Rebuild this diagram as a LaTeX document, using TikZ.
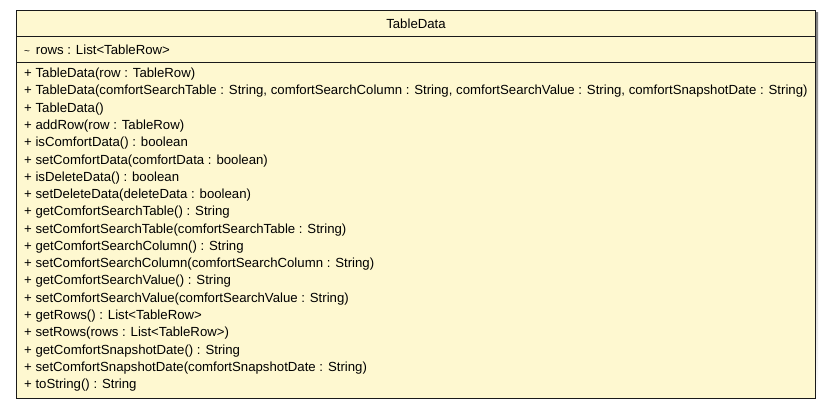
\documentclass[tikz,border=0pt]{standalone}
\usepackage{fontspec}
\setmainfont{Liberation Sans}
\usetikzlibrary{positioning}
\definecolor{classfill}{HTML}{FEF8D0}
\definecolor{classline}{HTML}{1A1A1A}
\definecolor{shade}{HTML}{5A5A5A}
\tikzset{
  member/.style={anchor=west,inner sep=0pt,font=\fontsize{13.2}{15}\selectfont,text=black},
  classtitle/.style={inner sep=0pt,font=\fontsize{13.2}{15}\selectfont,text=black},
  classbox/.style={draw=classline,line width=0.9pt,fill=classfill},
}
\begin{document}
\begin{tikzpicture}[x=1pt,y=1pt]
  \path[use as bounding box,fill=white] (0,0) rectangle (832,-409);
  % shadow and box
  \fill[shade] (18.5,-13) rectangle (818,-400.5);
  \draw[classbox] (16,-10.5) rectangle (815.5,-398.5);
  \draw[classline,line width=0.9pt] (16,-36) -- (815.5,-36);
  \draw[classline,line width=0.9pt] (16,-62) -- (815.5,-62);
  \node[classtitle] (title) at (416,-23.5) {TableData};
  \node[member] (rows) at (24,-49.5) {{\fontsize{10}{12}\selectfont\textasciitilde}\, rows : List<TableRow>};
  \foreach \txt [count=\i] in {
    {+ TableData(row : TableRow)},
    {+ TableData(comfortSearchTable : String, comfortSearchColumn : String, comfortSearchValue : String, comfortSnapshotDate : String)},
    {+ TableData()},
    {+ addRow(row : TableRow)},
    {+ isComfortData() : boolean},
    {+ setComfortData(comfortData : boolean)},
    {+ isDeleteData() : boolean},
    {+ setDeleteData(deleteData : boolean)},
    {+ getComfortSearchTable() : String},
    {+ setComfortSearchTable(comfortSearchTable : String)},
    {+ getComfortSearchColumn() : String},
    {+ setComfortSearchColumn(comfortSearchColumn : String)},
    {+ getComfortSearchValue() : String},
    {+ setComfortSearchValue(comfortSearchValue : String)},
    {+ getRows() : List<TableRow>},
    {+ setRows(rows : List<TableRow>)},
    {+ getComfortSnapshotDate() : String},
    {+ setComfortSnapshotDate(comfortSnapshotDate : String)},
    {+ toString() : String}}
    \node[member] (m\i) at (24,{-74.2-17.28*(\i-1)}) {\txt};
\end{tikzpicture}
\end{document}
